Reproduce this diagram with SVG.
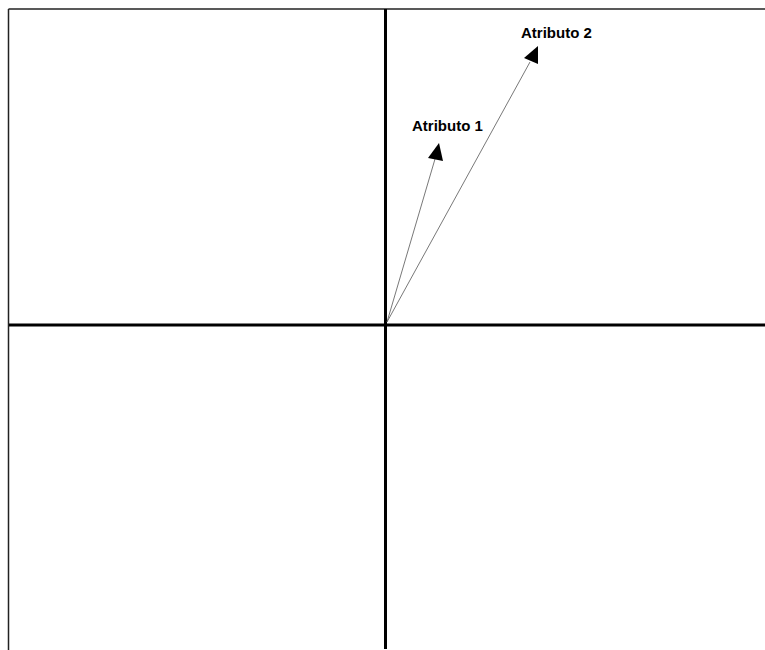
<svg xmlns="http://www.w3.org/2000/svg" width="765" height="650" viewBox="0 0 765 650">
<style>
.frame{stroke:#222;stroke-width:1.5;fill:none}
.axis{stroke:#000;stroke-width:3;fill:none}
.vec{stroke:#555;stroke-width:0.8;fill:none}
.lbl{font-family:"Liberation Sans",Arial,sans-serif;font-weight:bold;font-size:15px;fill:#000}
</style>
<rect width="765" height="650" fill="#fff"/>
<g id="frame">
<line class="frame" x1="8.5" y1="9" x2="765" y2="9"/>
<line class="frame" x1="8.5" y1="9" x2="8.5" y2="650"/>
</g>
<g id="axes">
<line class="axis" x1="9" y1="325" x2="765" y2="325"/>
<line class="axis" x1="385.5" y1="9" x2="385.5" y2="649"/>
</g>
<g id="connectors">
<line class="vec" x1="387" y1="322" x2="435" y2="159"/>
<polygon points="439,143 428,158 443,161" fill="#000"/>
<line class="vec" x1="387" y1="322" x2="530" y2="62"/>
<polygon points="538,46 524,58 538,64" fill="#000"/>
</g>
<g id="atributo1">
<text class="lbl" x="412" y="131">Atributo 1</text>
</g>
<g id="atributo2">
<text class="lbl" x="521" y="38">Atributo 2</text>
</g>
</svg>
